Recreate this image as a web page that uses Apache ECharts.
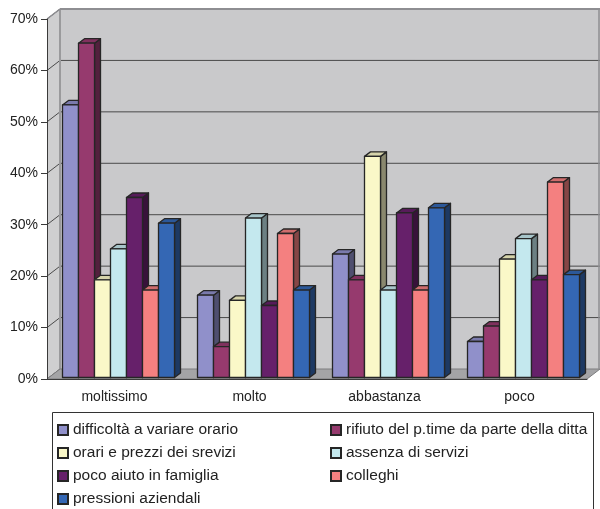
<!DOCTYPE html>
<html>
<head>
<meta charset="utf-8">
<script src="https://cdn.jsdelivr.net/npm/echarts@6/dist/echarts.min.js"></script>
<style>
  html, body { margin: 0; padding: 0; background: #ffffff; }
  #chart { width: 600px; height: 509px; }
</style>
</head>
<body>
<div id="chart"></div>
<script>
// Categories on the x axis
const categories = ['moltissimo', 'molto', 'abbastanza', 'poco'];

// Series names (legend order)
const seriesNames = [
  'difficoltà a variare orario',
  'rifiuto del p.time da parte della ditta',
  'orari e prezzi dei srevizi',
  'assenza di servizi',
  'poco aiuto in famiglia',
  'colleghi',
  'pressioni aziendali'
];

// Percentages per category
const difficolta = [53, 16, 24, 7];
const rifiuto    = [65, 6, 19, 10];
const orari      = [19, 15, 43, 23];
const assenza    = [25, 31, 17, 27];
const pocoAiuto  = [35, 14, 32, 19];
const colleghi   = [17, 28, 17, 38];
const pressioni  = [30, 17, 33, 20];

// Y axis ticks (percent)
const yTicks = [0, 10, 20, 30, 40, 50, 60, 70];

const seriesValues = [difficolta, rifiuto, orari, assenza, pocoAiuto, colleghi, pressioni];
const colors = ['#9090CA', '#963A6E', '#FAF8C8', '#C4E8EE', '#66206A', '#F48080', '#3467B4'];

// Depth of the walls and of each bar (pseudo-3D projection)
const WALL_DX = 13, WALL_DY = -10;
const BAR_DX = 6, BAR_DY = -4.5;
const BAR_LIFT = 1.5;
const BAR_W = 16;
const BAR_SHIFT = 4;
const EDGE = '#262626';

function shade(hex, f) {
  const n = parseInt(hex.slice(1), 16);
  const r = Math.round(((n >> 16) & 255) * f);
  const g = Math.round(((n >> 8) & 255) * f);
  const b = Math.round((n & 255) * f);
  return 'rgb(' + r + ',' + g + ',' + b + ')';
}

function barRenderer(k) {
  const color = colors[k];
  return function (params, api) {
    const cat = api.value(0);
    const val = api.value(1);
    const top = api.coord([cat, val]);
    const base = api.coord([cat, 0]);
    const x0 = top[0] - 3.5 * BAR_W + BAR_SHIFT + k * BAR_W;
    const x1 = x0 + BAR_W;
    const yt = top[1] - BAR_LIFT;
    const yb = base[1] - BAR_LIFT;
    const stroke = { stroke: EDGE, lineWidth: 1.3, lineJoin: 'round' };
    return {
      type: 'group',
      children: [
        {
          type: 'polygon',
          shape: { points: [[x1, yt], [x1 + BAR_DX, yt + BAR_DY], [x1 + BAR_DX, yb + BAR_DY], [x1, yb]] },
          style: Object.assign({ fill: shade(color, 0.55) }, stroke)
        },
        {
          type: 'polygon',
          shape: { points: [[x0, yt], [x0 + BAR_DX, yt + BAR_DY], [x1 + BAR_DX, yt + BAR_DY], [x1, yt]] },
          style: Object.assign({ fill: shade(color, 0.85) }, stroke)
        },
        {
          type: 'rect',
          shape: { x: x0, y: yt, width: BAR_W, height: yb - yt },
          style: Object.assign({ fill: color }, stroke)
        }
      ]
    };
  };
}

// Back wall, side wall, floor and gridlines
function wallRenderer(params, api) {
  const cs = params.coordSys;
  const xl = cs.x, xr = cs.x + cs.width;
  const y0 = api.coord([0, yTicks[0]])[1];
  const yTop = api.coord([0, yTicks[yTicks.length - 1]])[1];
  const children = [
    { type: 'rect', shape: { x: xl + WALL_DX, y: yTop + WALL_DY, width: xr - xl, height: y0 - yTop }, style: { fill: '#C9C9CB' } },
    { type: 'polygon', shape: { points: [[xl, yTop], [xl + WALL_DX, yTop + WALL_DY], [xl + WALL_DX, y0 + WALL_DY], [xl, y0]] }, style: { fill: '#CFCFD0' } }
  ];
  yTicks.forEach(function (v, i) {
    const y = api.coord([0, v])[1];
    if (i > 0 && i < yTicks.length - 1) {
      children.push({ type: 'line', shape: { x1: xl + WALL_DX, y1: y + WALL_DY, x2: xr + WALL_DX, y2: y + WALL_DY }, style: { stroke: '#4a4a4a', lineWidth: 1 } });
    }
    children.push({ type: 'line', shape: { x1: xl, y1: y, x2: xl + WALL_DX, y2: y + WALL_DY }, style: { stroke: '#4a4a4a', lineWidth: 1 } });
  });
  children.push(
    { type: 'line', shape: { x1: xl + WALL_DX, y1: yTop + WALL_DY, x2: xl + WALL_DX, y2: y0 + WALL_DY }, style: { stroke: '#9A9A9C', lineWidth: 2 } },
    { type: 'polygon', shape: { points: [[xl, y0], [xl + WALL_DX, y0 + WALL_DY], [xr + WALL_DX, y0 + WALL_DY], [xr, y0]] }, style: { fill: '#A4A4A6', stroke: '#7c7c7e', lineWidth: 1 } },
    { type: 'line', shape: { x1: xl + WALL_DX, y1: yTop + WALL_DY, x2: xr + WALL_DX, y2: yTop + WALL_DY }, style: { stroke: '#8E8E92', lineWidth: 2 } },
    { type: 'line', shape: { x1: xr + WALL_DX - 1, y1: yTop + WALL_DY, x2: xr + WALL_DX - 1, y2: y0 + WALL_DY }, style: { stroke: '#8E8E92', lineWidth: 1.5 } },
    { type: 'line', shape: { x1: xl, y1: yTop, x2: xl + WALL_DX, y2: yTop + WALL_DY }, style: { stroke: '#8E8E92', lineWidth: 1.5 } }
  );
  return { type: 'group', children: children };
}

const series = [{
  type: 'custom',
  name: 'wall',
  z: 1,
  clip: false,
  silent: true,
  renderItem: wallRenderer,
  data: [[0, 0]]
}];
seriesNames.forEach(function (name, k) {
  series.push({
    type: 'custom',
    name: name,
    z: 2,
    clip: false,
    renderItem: barRenderer(k),
    itemStyle: { color: colors[k], borderColor: EDGE, borderWidth: 1 },
    encode: { x: 0, y: 1 },
    data: categories.map(function (c, i) { return [i, seriesValues[k][i]]; })
  });
});

const chart = echarts.init(document.getElementById('chart'), null, { renderer: 'canvas' });
chart.setOption({
  animation: false,
  backgroundColor: '#ffffff',
  textStyle: { fontFamily: 'Liberation Sans, Arial, sans-serif' },
  grid: { left: 47, top: 19, width: 540, height: 360 },
  xAxis: {
    type: 'category',
    data: categories,
    z: 10,
    axisLine: { lineStyle: { color: '#3a3a3a', width: 1 } },
    axisTick: { length: 6, lineStyle: { color: '#3a3a3a' } },
    axisLabel: { fontSize: 14, color: '#222', margin: 11 },
    splitLine: { show: false }
  },
  yAxis: {
    type: 'value',
    min: yTicks[0],
    max: yTicks[yTicks.length - 1],
    interval: yTicks[1] - yTicks[0],
    z: 10,
    axisLine: { show: true, lineStyle: { color: '#3a3a3a', width: 1 } },
    axisTick: { show: true, length: 6, lineStyle: { color: '#3a3a3a' } },
    axisLabel: { fontSize: 14, color: '#222', margin: 9, formatter: '{value}%' },
    splitLine: { show: false }
  },
  legend: {
    data: seriesNames,
    left: 52,
    top: 412,
    width: 545,
    orient: 'horizontal',
    padding: [10, 5, 10, 5],
    itemGap: 7,
    itemWidth: 10,
    itemHeight: 10,
    icon: 'rect',
    selectedMode: false,
    textStyle: { fontSize: 15.5, color: '#222', width: 250, lineHeight: 16 }
  },
  graphic: [{
    type: 'rect',
    shape: { x: 52.5, y: 412.5, width: 541, height: 120 },
    style: { fill: 'none', stroke: '#333', lineWidth: 1 },
    z: 100
  }],
  series: series
});
</script>
</body>
</html>
